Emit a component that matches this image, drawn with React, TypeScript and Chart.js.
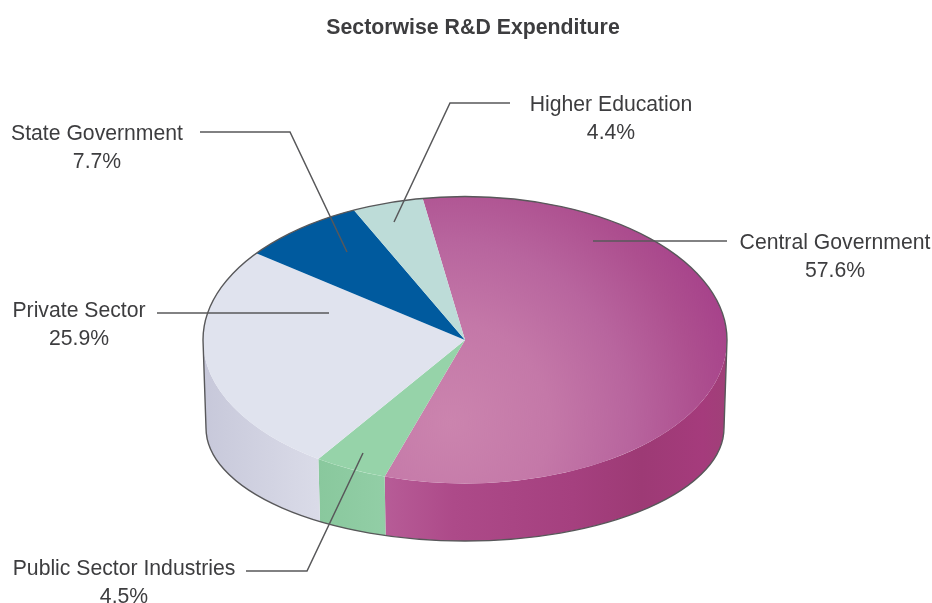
import React, { useEffect, useRef } from "react";
import { Chart, registerables } from "chart.js";

Chart.register(...registerables);

const sectors = ["Central Government", "Public Sector Industries", "Private Sector", "State Government", "Higher Education"];
const shares = [57.6, 4.5, 25.9, 7.7, 4.4];
const chartTitle = "Sectorwise R&D Expenditure";

const faceColors = ["#a8458a", "#96d3a9", "#e0e3ee", "#005a9e", "#bddcd8"];
const INK = "#3d3d3f";
const RULE = "#58585a";
const FONT = '"Liberation Sans", Arial, sans-serif';

// The pie is drawn as a circle and squashed vertically into a tilted disc.
const SQUASH = 0.5477;
const BASE_RX_RATIO = 259 / 262;
const BASE_RY = 113;
const BASE_DROP = 88;

// Where each sector's caption sits and how its leader line runs.
const captions = [
  { x: 835, y: 243, line: [[727, 241], [593, 241]] },
  { x: 124, y: 569, line: [[246, 571], [307, 571], [363, 453]] },
  { x: 79, y: 311, line: [[157, 313], [329, 313]] },
  { x: 97, y: 134, line: [[200, 132], [290, 132], [347, 252]] },
  { x: 611, y: 105, line: [[510, 103], [450, 103], [394, 222]] },
];

// Front wall shading, as [x position across the slice 0..1, colour].
const wallStops: [number, string][][] = [
  [[0, "#b75c97"], [0.2, "#ad4a89"], [0.55, "#a5407f"], [0.75, "#9d3a75"], [0.93, "#a53b7c"], [1, "#a04078"]],
  [[0, "#89c89d"], [1, "#92cea6"]],
  [[0, "#c7c8da"], [1, "#dadbe8"]],
];

// Light falloff on the large slice, as [distance from the highlight, colour].
const glowStops: [number, string][] = [
  [0, "#cb84ae"],
  [100, "#c478a8"],
  [180, "#b8659e"],
  [250, "#ad4f8f"],
  [300, "#a6418a"],
  [360, "#a33c82"],
];

// Paints the highlight on its own canvas, stretched so that it reads as round
// once the disc has been squashed.
function glowPattern(chart: any, cx: number, cy: number) {
  const sheet = document.createElement("canvas");
  sheet.width = chart.width;
  sheet.height = chart.height;
  const g = sheet.getContext("2d")!;
  g.translate(cx, cy);
  g.scale(1, 1 / SQUASH);
  const last = glowStops[glowStops.length - 1][0];
  const fill = g.createRadialGradient(0, 0, 0, 0, 0, last);
  glowStops.forEach(([at, color]) => fill.addColorStop(at / last, color));
  g.fillStyle = fill;
  g.fillRect(-chart.width, -chart.height, chart.width * 2, chart.height * 2);
  return chart.ctx.createPattern(sheet, "no-repeat");
}

const discPlugin = {
  id: "disc",
  beforeDatasetsDraw(chart: any) {
    const { ctx } = chart;
    const arcs = chart.getDatasetMeta(0).data;
    const { x: cx, y: cy, outerRadius: r } = arcs[0];
    const baseRx = r * BASE_RX_RATIO;
    const baseCy = cy + BASE_DROP;

    arcs.forEach((arc: any, i: number) => {
      const a0 = Math.max(arc.startAngle, 0);
      const a1 = Math.min(arc.endAngle, Math.PI);
      if (a1 <= a0 || !wallStops[i]) return;
      const x0 = cx + r * Math.cos(a1);
      const x1 = cx + r * Math.cos(a0);
      const fill = ctx.createLinearGradient(x0, 0, x1, 0);
      wallStops[i].forEach(([at, color]) => fill.addColorStop(at, color));
      ctx.beginPath();
      ctx.ellipse(cx, cy, r, r * SQUASH, 0, a0, a1);
      ctx.ellipse(cx, baseCy, baseRx, BASE_RY, 0, a1, a0, true);
      ctx.closePath();
      ctx.fillStyle = fill;
      ctx.fill();
    });

    ctx.save();
    ctx.translate(cx, cy);
    ctx.scale(1, SQUASH);
    ctx.translate(-cx, -cy);
  },
  afterDatasetsDraw(chart: any) {
    const { ctx } = chart;
    ctx.restore();

    const arcs = chart.getDatasetMeta(0).data;
    const { x: cx, y: cy, outerRadius: r } = arcs[0];
    const baseRx = r * BASE_RX_RATIO;
    const baseCy = cy + BASE_DROP;

    // Silhouette: back rim, both sides and the lower rim.
    ctx.strokeStyle = RULE;
    ctx.lineWidth = 1.4;
    ctx.beginPath();
    ctx.ellipse(cx, baseCy, baseRx, BASE_RY, 0, 0, Math.PI);
    ctx.lineTo(cx - r, cy);
    ctx.ellipse(cx, cy, r, r * SQUASH, 0, Math.PI, Math.PI * 2);
    ctx.lineTo(cx + baseRx, baseCy);
    ctx.stroke();

    // Leader lines
    ctx.lineWidth = 1.5;
    ctx.lineJoin = "miter";
    captions.forEach(({ line }) => {
      ctx.beginPath();
      line.forEach(([x, y], i) => (i ? ctx.lineTo(x, y) : ctx.moveTo(x, y)));
      ctx.stroke();
    });

    // Title and sector captions
    ctx.fillStyle = INK;
    ctx.textAlign = "center";
    ctx.textBaseline = "middle";
    ctx.font = `bold 21.3px ${FONT}`;
    ctx.fillText(chartTitle, 473, 28);
    ctx.font = `21.2px ${FONT}`;
    captions.forEach(({ x, y }, i) => {
      ctx.fillText(sectors[i], x, y);
      ctx.fillText(`${shares[i]}%`, x, y + 28.5);
    });
  },
};

export default function App() {
  const ref = useRef<HTMLCanvasElement>(null);

  useEffect(() => {
    const chart = new Chart(ref.current!, {
      type: "pie",
      plugins: [discPlugin],
      data: {
        labels: sectors,
        datasets: [
          {
            data: shares,
            borderWidth: 0,
            backgroundColor: (c: any) => {
              const area = c.chart.chartArea;
              if (c.dataIndex !== 0 || !area) return faceColors[c.dataIndex];
              // Highlight sits low and slightly left of the pie's centre.
              const cx = (area.left + area.right) / 2 - 15;
              const cy = (area.top + area.bottom) / 2 + 83 / SQUASH;
              return glowPattern(c.chart, cx, cy);
            },
          },
        ],
      },
      options: {
        responsive: false,
        animation: false,
        rotation: -9.3,
        layout: { padding: { left: 203, right: 205, top: 78, bottom: 1 } },
        plugins: { legend: { display: false }, tooltip: { enabled: false } },
      },
    });
    return () => chart.destroy();
  }, []);

  return (
    <canvas
      ref={ref}
      width={932}
      height={603}
      style={{ position: "absolute", left: 0, top: 0, display: "block", background: "#fff" }}
    />
  );
}
